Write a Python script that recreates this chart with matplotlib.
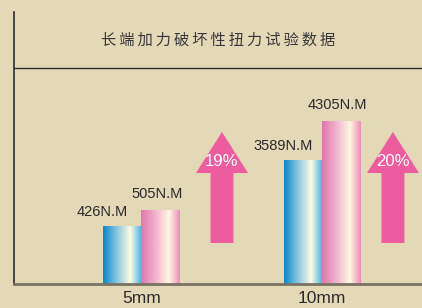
import numpy as np
import matplotlib.pyplot as plt
from matplotlib.colors import LinearSegmentedColormap

# data (bar lengths as drawn, labels as printed)
groups = ["5mm", "10mm"]
before_vals = ["426N.M", "3589N.M"]
after_vals = ["505N.M", "4305N.M"]
before_h = [58, 124]
after_h = [74, 163]
gains = ["19%", "20%"]
title = "长端加力破坏性扭力试验数据"

bg = "#E3D9B7"
plt.rcParams['font.family'] = ['Liberation Sans', 'DejaVu Sans']

fig = plt.figure(figsize=(4.22, 3.08), dpi=100, facecolor=bg)
ax = fig.add_axes([14 / 422, 24 / 308, 408 / 422, 272 / 308])
ax.set_facecolor(bg)

blue_cm = LinearSegmentedColormap.from_list("b", [(0, "#0787CA"), (0.35, "#86C5DF"), (0.7, "#FFFBE3"), (1, "#3DB2E3")])
pink_cm = LinearSegmentedColormap.from_list("p", [(0, "#DE77AD"), (0.4, "#F2B8CF"), (0.72, "#FFF8E1"), (1, "#EE8BB8")])
grad = np.linspace(0, 1, 256).reshape(1, -1)

x = np.arange(len(groups))
w = 0.213
b1 = ax.bar(x - w / 2, before_h, w, color="none")
b2 = ax.bar(x + w / 2, after_h, w, color="none")
for bars, cm in ((b1, blue_cm), (b2, pink_cm)):
    for r in bars:
        x0, h = r.get_x(), r.get_height()
        ax.imshow(grad, cmap=cm, extent=(x0, x0 + r.get_width(), 0, h), aspect="auto", zorder=2)

for i in range(len(groups)):
    ax.text(x[i] - w / 2 - 0.11, before_h[i] + 14, before_vals[i], ha="center", va="center",
            fontsize=10.5, color="#2a2a2a")
    ax.text(x[i] + w / 2 - 0.02, after_h[i] + 16, after_vals[i], ha="center", va="center",
            fontsize=10.5, color="#2a2a2a")

# increase arrows
arrow_x = [0.446, 1.393]
for ax_x, g in zip(arrow_x, gains):
    ax.arrow(ax_x, 41, 0, 111, width=0.127, head_width=0.288, head_length=41,
             length_includes_head=True, color="#EE5CA0", lw=0, zorder=3)
    ax.text(ax_x, 122, g, ha="center", va="center", fontsize=12, color="white", zorder=4)

ax.set_xlim(-0.706, 1.554)
ax.set_ylim(0, 272)
ax.axhline(216, color="#2b2b2b", lw=1)
spaced = "\u2009".join(title)
ax.text(0.5, 244, spaced, transform=ax.get_yaxis_transform(), ha="center", va="center",
        fontsize=11, color="#383838", family=['Noto Sans CJK SC', 'DejaVu Sans'])

for s in ["top", "right"]:
    ax.spines[s].set_visible(False)
ax.spines["left"].set_color("#2b2b2b")
ax.spines["left"].set_linewidth(1.2)
ax.spines["bottom"].set_color("#7a7262")
ax.spines["bottom"].set_linewidth(2)
ax.set_yticks([])
ax.set_xticks(x)
ax.set_xticklabels(groups, fontsize=12.5, color="#2a2a2a")
ax.tick_params(axis="x", length=0, pad=5)

fig.savefig("out.png", dpi=100, facecolor=bg)
